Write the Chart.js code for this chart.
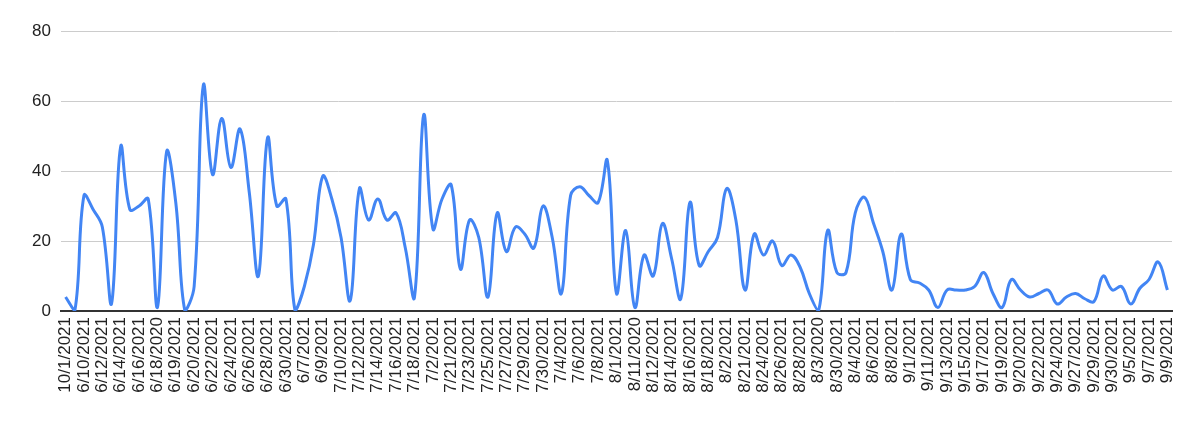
<!DOCTYPE html>
<html>
<head>
<meta charset="utf-8">
<script src="https://cdn.jsdelivr.net/npm/chart.js@4/dist/chart.umd.min.js"></script>
<style>
  html, body { margin: 0; padding: 0; background: #fff; }
  #wrap { width: 1194px; height: 421px; position: relative; }
</style>
</head>
<body>
<div id="wrap"><canvas id="c" width="1194" height="421"></canvas></div>
<script>
const categories = [
  "10/1/2021","6/1/2021","6/10/2021","6/11/2021","6/12/2021","6/13/2021","6/14/2021","6/15/2021","6/16/2021","6/17/2021",
  "6/18/2020","6/18/2021","6/19/2021","6/2/2021","6/20/2021","6/21/2021","6/22/2021","6/23/2021","6/24/2021","6/25/2021",
  "6/26/2021","6/27/2021","6/28/2021","6/29/2021","6/30/2021","6/5/2021","6/7/2021","6/8/2021","6/9/2021","7/1/2021",
  "7/10/2021","7/11/2021","7/12/2021","7/13/2021","7/14/2021","7/15/2021","7/16/2021","7/17/2021","7/18/2021","7/19/2021",
  "7/2/2021","7/20/2021","7/21/2021","7/22/2021","7/23/2021","7/24/2021","7/25/2021","7/26/2021","7/27/2021","7/28/2021",
  "7/29/2021","7/3/2021","7/30/2021","7/31/2021","7/4/2021","7/5/2021","7/6/2021","7/7/2021","7/8/2021","7/9/2021",
  "8/1/2021","8/10/2021","8/11/2020","8/11/2021","8/12/2021","8/13/2021","8/14/2021","8/15/2021","8/16/2021","8/17/2021",
  "8/18/2021","8/19/2021","8/2/2021","8/20/2021","8/21/2021","8/23/2021","8/24/2021","8/25/2021","8/26/2021","8/27/2021",
  "8/28/2021","8/29/2021","8/3/2020","8/3/2021","8/30/2021","8/31/2021","8/4/2021","8/5/2021","8/6/2021","8/7/2021",
  "8/8/2021","8/9/2021","9/1/2021","9/10/2021","9/11/2021","9/12/2021","9/13/2021","9/14/2021","9/15/2021","9/16/2021",
  "9/17/2021","9/18/2021","9/19/2021","9/2/2021","9/20/2021","9/21/2021","9/22/2021","9/23/2021","9/24/2021","9/26/2021",
  "9/27/2021","9/28/2021","9/29/2021","9/3/2021","9/30/2021","9/4/2021","9/5/2021","9/6/2021","9/7/2021","9/8/2021",
  "9/9/2021"
];

const values = [
  4, 0, 33, 29, 24, 2, 47, 29, 30, 32,
  1, 45.5, 31, 0, 7, 64.5, 39, 55, 41, 52,
  34, 10, 49.5, 30, 32, 0, 7, 19, 38.5, 32,
  21, 3, 35, 26, 32, 26, 28, 18, 4, 56,
  23.5, 32, 36, 12, 26, 21, 4, 28, 17, 24,
  22, 18, 30, 21, 5, 33, 35.5, 33, 31, 43,
  5, 23, 1, 16, 10, 25, 15, 3.5, 31, 13,
  17, 21, 35, 26, 6, 22, 16, 20, 13, 16,
  12.5, 5, 0, 23, 11, 11, 28, 32.5, 25, 17,
  6, 22, 9, 8, 6, 1, 6, 6, 6, 7,
  11, 5, 1, 9, 6, 4, 5, 6, 2, 4,
  5, 3.5, 2.7, 10, 6, 7, 2, 6.5, 9, 14,
  6
];

const yTicks = [0, 20, 40, 60, 80];

const FONT = "'Liberation Sans', Arial, sans-serif";

new Chart(document.getElementById('c'), {
  type: 'line',
  data: {
    labels: categories,
    datasets: [{
      data: values,
      borderColor: '#4285F4',
      borderWidth: 3,
      pointRadius: 0,
      pointHoverRadius: 0,
      tension: 0.4,
      fill: false
    }]
  },
  options: {
    responsive: false,
    animation: false,
    devicePixelRatio: 1,
    layout: { padding: { top: 31, right: 22, left: 0, bottom: 0 } },
    plugins: { legend: { display: false }, tooltip: { enabled: false } },
    scales: {
      x: {
        type: 'category',
        offset: true,
        grid: { display: false, drawTicks: false },
        border: { display: true, color: '#333333', width: 2 },
        ticks: {
          autoSkip: false,
          minRotation: 90,
          maxRotation: 90,
          padding: 6,
          color: '#222222',
          font: { family: FONT, size: 17 },
          callback: function(v, i) { return i % 2 === 0 ? categories[i] : ''; }
        },
        afterFit: function(scale) { scale.height = 110; }
      },
      y: {
        min: 0,
        max: 80,
        afterBuildTicks: function(scale) { scale.ticks = yTicks.map(v => ({ value: v })); },
        grid: { color: '#cccccc', lineWidth: 1, drawTicks: false },
        border: { display: false },
        ticks: {
          padding: 10,
          color: '#222222',
          font: { family: FONT, size: 17 }
        },
        afterFit: function(scale) { scale.width = 61; }
      }
    }
  }
});
</script>
</body>
</html>
